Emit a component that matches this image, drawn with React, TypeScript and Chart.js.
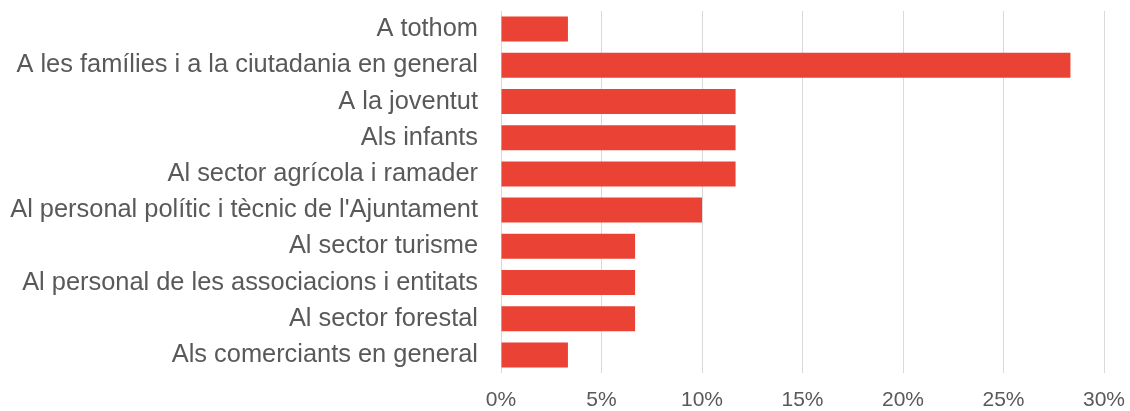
import React, { useEffect, useRef } from "react";
import { Chart, registerables } from "chart.js";

Chart.register(...registerables);

const categories = [
  "A tothom",
  "A les famílies i a la ciutadania en general",
  "A la joventut",
  "Als infants",
  "Al sector agrícola i ramader",
  "Al personal polític i tècnic de l'Ajuntament",
  "Al sector turisme",
  "Al personal de les associacions i entitats",
  "Al sector forestal",
  "Als comerciants en general",
];

const values = [3.33, 28.33, 11.67, 11.67, 11.67, 10.0, 6.67, 6.67, 6.67, 3.33];

const xTicks = [0, 5, 10, 15, 20, 25, 30];

export default function App() {
  const ref = useRef<HTMLCanvasElement | null>(null);

  useEffect(() => {
    if (!ref.current) return;
    const chart = new Chart(ref.current, {
      type: "bar",
      data: {
        labels: categories,
        datasets: [
          {
            data: values,
            backgroundColor: "#EA4335",
            borderWidth: 0,
            categoryPercentage: 1,
            barPercentage: 0.69,
          },
        ],
      },
      options: {
        indexAxis: "y",
        animation: false,
        responsive: false,
        maintainAspectRatio: false,
        layout: { padding: { top: 11, right: 26, left: 0, bottom: 0 } },
        plugins: { legend: { display: false }, tooltip: { enabled: false } },
        scales: {
          x: {
            min: 0,
            max: 30,
            afterBuildTicks: (scale: any) => {
              scale.ticks = xTicks.map((v) => ({ value: v }));
            },
            afterFit: (scale: any) => {
              scale.height = 38;
              scale.paddingLeft = 0;
              scale.paddingRight = 0;
            },
            grid: { color: "#D9D9D9", drawTicks: false, lineWidth: 1 },
            border: { display: false },
            ticks: {
              padding: 15,
              color: "#595959",
              font: { family: "'Liberation Sans', Arial, sans-serif", size: 21 },
              callback: (v: any) => v + "%",
            },
          },
          y: {
            afterFit: (scale: any) => {
              scale.width = 501;
              scale.paddingTop = 0;
              scale.paddingBottom = 0;
            },
            grid: { display: false, drawTicks: false },
            border: { display: false },
            ticks: {
              padding: 23,
              color: "#595959",
              font: { family: "'Liberation Sans', Arial, sans-serif", size: 25.4 },
              autoSkip: false,
            },
          },
        },
      },
    });
    return () => chart.destroy();
  }, []);

  return (
    <div style={{ position: "fixed", left: 0, top: 0, width: 1130, height: 411, background: "#fff" }}>
      <canvas ref={ref} width={1130} height={411} />
    </div>
  );
}
